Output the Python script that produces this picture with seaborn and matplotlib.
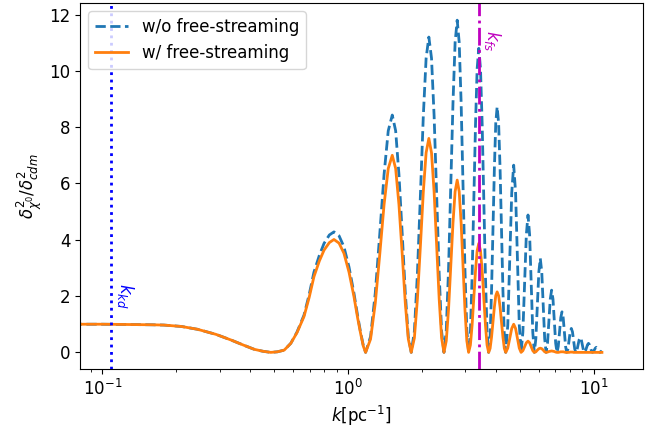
import matplotlib
matplotlib.use("Agg")
import matplotlib.pyplot as plt
import seaborn as sns
import pandas as pd

# wavenumber k [pc^-1]
k = [0.075, 0.10, 0.13, 0.16, 0.178, 0.21, 0.244, 0.29, 0.334, 0.375,
     0.415, 0.45, 0.485, 0.516, 0.55, 0.585, 0.62, 0.662, 0.695, 0.727,
     0.765, 0.799, 0.84, 0.877, 0.92, 0.963, 1.01, 1.058, 1.095, 1.126, 1.155,
     1.18, 1.236, 1.292, 1.348, 1.403, 1.459, 1.515, 1.564, 1.613, 1.663, 1.712, 1.761,
     1.81, 1.864, 1.918, 1.973, 2.027, 2.081, 2.135, 2.189, 2.243, 2.298, 2.352, 2.406,
     2.46, 2.514, 2.568, 2.623, 2.677, 2.731, 2.785, 2.838, 2.890, 2.943, 2.995, 3.048,
     3.10, 3.152, 3.203, 3.255, 3.307, 3.358, 3.41, 3.465, 3.52, 3.575, 3.63, 3.685,
     3.74, 3.792, 3.843, 3.895, 3.947, 3.998, 4.05, 4.107, 4.163, 4.22, 4.277, 4.333,
     4.39, 4.475, 4.56, 4.645, 4.73, 4.815, 4.90, 4.985,
     5.07, 5.155, 5.24, 5.325, 5.41, 5.493, 5.575, 5.658,
     5.74, 5.823, 5.905, 5.988, 6.07, 6.155, 6.24, 6.325,
     6.41, 6.495, 6.58, 6.665, 6.75, 6.838, 6.925, 7.013,
     7.10, 7.185, 7.27, 7.355, 7.44, 7.525, 7.61, 7.695,
     7.78, 7.865, 7.95, 8.035, 8.12, 8.208, 8.295, 8.383,
     8.47, 8.56, 8.65, 8.74, 8.83, 8.918, 9.005, 9.093,
     9.18, 9.27, 9.36, 9.45, 9.54, 9.63, 9.72, 9.81,
     9.90, 9.99, 10.08, 10.17, 10.26, 10.35, 10.44, 10.53,
     10.62, 10.72, 10.82]

# ratio without free-streaming (dashed)
ratio_no_fs = [1.00, 1.00, 0.99, 0.98, 0.97, 0.92, 0.82, 0.64, 0.44, 0.26,
               0.11, 0.04, 0.00, 0.02, 0.08, 0.32, 0.72, 1.32, 2.05, 2.85,
               3.45, 3.87, 4.17, 4.28, 4.14, 3.75, 3.03, 2.10, 1.30, 0.71, 0.24,
               0.00, 0.56, 2.11, 4.22, 6.32, 7.87, 8.43, 7.87, 6.32, 4.22, 2.11, 0.56,
               0.00, 0.75, 2.80, 5.60, 8.40, 10.45, 11.20, 10.45, 8.40, 5.60, 2.80, 0.75,
               0.00, 0.79, 2.95, 5.90, 8.85, 11.01, 11.80, 11.01, 8.85, 5.90, 2.95, 0.79,
               0.00, 0.72, 2.70, 5.40, 8.10, 10.08, 10.80, 10.08, 8.10, 5.40, 2.70, 0.72,
               0.00, 0.58, 2.18, 4.36, 6.54, 8.14, 8.72, 8.14, 6.54, 4.36, 2.18, 0.58,
               0.00, 0.97, 3.33, 5.68, 6.65, 5.68, 3.33, 0.97,
               0.00, 0.71, 2.44, 4.17, 4.88, 4.17, 2.44, 0.71,
               0.00, 0.49, 1.67, 2.85, 3.34, 2.85, 1.67, 0.49,
               0.00, 0.32, 1.11, 1.89, 2.21, 1.89, 1.11, 0.32,
               0.00, 0.21, 0.72, 1.23, 1.44, 1.23, 0.72, 0.21,
               0.00, 0.12, 0.43, 0.73, 0.85, 0.73, 0.43, 0.12,
               0.00, 0.08, 0.27, 0.45, 0.53, 0.45, 0.27, 0.08,
               0.00, 0.05, 0.16, 0.27, 0.32, 0.27, 0.16, 0.05,
               0.00, 0.03, 0.09, 0.15, 0.18, 0.15, 0.09, 0.03,
               0.00, 0.02, 0.06]

# ratio with free-streaming (solid)
ratio_fs = [1.00, 1.00, 0.99, 0.98, 0.97, 0.92, 0.82, 0.64, 0.44, 0.26,
            0.11, 0.04, 0.00, 0.02, 0.08, 0.32, 0.70, 1.27, 1.95, 2.69,
            3.25, 3.63, 3.90, 4.01, 3.88, 3.52, 2.85, 1.98, 1.22, 0.67, 0.22,
            0.00, 0.47, 1.75, 3.50, 5.25, 6.53, 7.00, 6.53, 5.25, 3.50, 1.75, 0.47,
            0.00, 0.51, 1.90, 3.80, 5.70, 7.09, 7.60, 7.09, 5.70, 3.80, 1.90, 0.51,
            0.00, 0.41, 1.53, 3.06, 4.59, 5.71, 6.12, 5.71, 4.59, 3.06, 1.53, 0.41,
            0.00, 0.26, 0.97, 1.94, 2.90, 3.61, 3.87, 3.61, 2.90, 1.94, 0.97, 0.26,
            0.00, 0.14, 0.54, 1.08, 1.61, 2.01, 2.15, 2.01, 1.61, 1.08, 0.54, 0.14,
            0.00, 0.15, 0.50, 0.85, 1.00, 0.85, 0.50, 0.15,
            0.00, 0.06, 0.20, 0.34, 0.40, 0.34, 0.20, 0.06,
            0.00, 0.02, 0.08, 0.13, 0.15, 0.13, 0.08, 0.02,
            0.00, 0.01, 0.03, 0.04, 0.05, 0.04, 0.03, 0.01,
            0.00, 0.00, 0.01, 0.02, 0.02, 0.02, 0.01, 0.00,
            0.00, 0.00, 0.00, 0.01, 0.01, 0.01, 0.00, 0.00,
            0.00, 0.00, 0.00, 0.00, 0.00, 0.00, 0.00, 0.00,
            0.00, 0.00, 0.00, 0.00, 0.00, 0.00, 0.00, 0.00,
            0.00, 0.00, 0.00, 0.00, 0.00, 0.00, 0.00, 0.00,
            0.00, 0.00, 0.00]

series_labels = ["w/o free-streaming", "w/ free-streaming"]
k_kd = 0.1085
k_fs = 3.43

plt.rcParams["font.size"] = 12

df_no = pd.DataFrame({"k": k, "ratio": ratio_no_fs})
df_fs = pd.DataFrame({"k": k, "ratio": ratio_fs})

fig = plt.figure(figsize=(6.67, 4.34), dpi=100)
ax = fig.add_axes([0.12, 0.1498, 0.844, 0.8433])

sns.lineplot(data=df_no, x="k", y="ratio", ax=ax, color="C0", linestyle="--",
             lw=2, label=series_labels[0], estimator=None, sort=False)
sns.lineplot(data=df_fs, x="k", y="ratio", ax=ax, color="C1", linestyle="-",
             lw=2, label=series_labels[1], estimator=None, sort=False)

ax.axvline(k_kd, color="b", linestyle=":", lw=2)
ax.axvline(k_fs, color="m", linestyle="-.", lw=2)

ax.set_xscale("log")
ax.set_xlim(0.0811, 15.9)
ax.set_ylim(-0.59, 12.41)

ax.text(0.1127, 2.46, r"$k_{kd}$", color="b", rotation=-90,
        ha="left", va="top", fontsize=12)
ax.text(3.52, 11.45, r"$k_{fs}$", color="m", rotation=-90,
        ha="left", va="top", fontsize=12)

ax.set_xlabel(r"$k[\mathrm{pc}^{-1}]$")
ax.set_ylabel(r"$\delta^2_{\chi^0}/\delta^2_{cdm}$")
ax.legend(loc="upper left")

fig.savefig("out.png", dpi=100)
